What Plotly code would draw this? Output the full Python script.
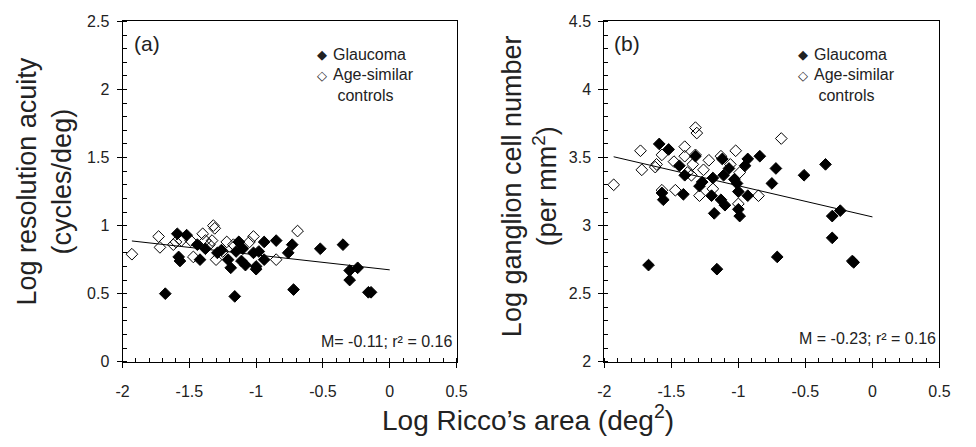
import plotly.graph_objects as go

# ---------------- data ----------------
# Panel (a): Log resolution acuity vs Log Ricco's area
a_ctrl_x = [-1.93, -1.73, -1.72, -1.62, -1.60, -1.56, -1.49, -1.47, -1.40, -1.38, -1.35, -1.33, -1.32,
            -1.31, -1.30, -1.25, -1.22, -1.17, -1.13, -1.05, -1.02, -0.85, -0.69]
a_ctrl_y = [0.79, 0.92, 0.84, 0.86, 0.88, 0.89, 0.89, 0.77, 0.94, 0.89, 0.86, 0.89, 1.00,
            0.98, 0.75, 0.81, 0.88, 0.86, 0.88, 0.88, 0.92, 0.75, 0.96]
a_glau_x = [-1.68, -1.59, -1.58, -1.57, -1.52, -1.44, -1.42, -1.38, -1.29, -1.26, -1.21, -1.19, -1.16,
            -1.15, -1.13, -1.11, -1.10, -1.08, -1.02, -1.00, -1.00, -0.98, -0.94, -0.94, -0.85, -0.76,
            -0.73, -0.72, -0.52, -0.35, -0.30, -0.30, -0.24, -0.16, -0.14]
a_glau_y = [0.50, 0.94, 0.77, 0.74, 0.93, 0.86, 0.75, 0.83, 0.80, 0.82, 0.75, 0.69, 0.48,
            0.81, 0.88, 0.74, 0.83, 0.71, 0.80, 0.70, 0.68, 0.81, 0.88, 0.75, 0.89, 0.80,
            0.86, 0.53, 0.83, 0.86, 0.67, 0.60, 0.69, 0.51, 0.51]
a_fit = {"slope": -0.11, "intercept": 0.675, "x_from": -1.93, "x_to": 0.0}

# Panel (b): Log ganglion cell number vs Log Ricco's area
b_ctrl_x = [-1.93, -1.73, -1.72, -1.62, -1.61, -1.57, -1.57, -1.48, -1.47, -1.40, -1.40, -1.38, -1.35,
            -1.34, -1.32, -1.32, -1.31, -1.29, -1.26, -1.22, -1.19, -1.13, -1.06, -1.02, -1.00, -0.99,
            -0.85, -0.68]
b_ctrl_y = [3.30, 3.55, 3.41, 3.43, 3.45, 3.52, 3.26, 3.47, 3.26, 3.58, 3.51, 3.39, 3.37,
            3.45, 3.72, 3.52, 3.68, 3.22, 3.41, 3.48, 3.27, 3.51, 3.45, 3.55, 3.16, 3.39,
            3.22, 3.64]
b_glau_x = [-1.67, -1.59, -1.57, -1.52, -1.56, -1.44, -1.41, -1.40, -1.32, -1.29, -1.27, -1.20, -1.19,
            -1.18, -1.16, -1.13, -1.12, -1.11, -1.10, -1.07, -1.03, -1.01, -1.00, -1.00, -0.99, -0.95,
            -0.93, -0.93, -0.84, -0.75, -0.72, -0.71, -0.51, -0.35, -0.30, -0.30, -0.24, -0.15, -0.14]
b_glau_y = [2.71, 3.60, 3.24, 3.56, 3.19, 3.44, 3.23, 3.37, 3.51, 3.29, 3.32, 3.22, 3.35,
            3.09, 2.68, 3.19, 3.49, 3.37, 3.15, 3.42, 3.34, 3.31, 3.25, 3.12, 3.07, 3.44,
            3.49, 3.22, 3.51, 3.31, 3.42, 2.77, 3.37, 3.45, 3.07, 2.91, 3.11, 2.74, 2.73]
b_fit = {"slope": -0.229, "intercept": 3.064, "x_from": -1.93, "x_to": 0.0}

x_tickvals = [-2, -1.5, -1, -0.5, 0, 0.5]
x_ticktext = ["-2", "-1.5", "-1", "-0.5", "0", "0.5"]
ya_tickvals = [0, 0.5, 1, 1.5, 2, 2.5]
ya_ticktext = ["0", "0.5", "1", "1.5", "2", "2.5"]
yb_tickvals = [2, 2.5, 3, 3.5, 4, 4.5]
yb_ticktext = ["2", "2.5", "3", "3.5", "4", "4.5"]

# ---------------- figure ----------------
FONT = "Liberation Sans, Arial, sans-serif"
TXT = "#222222"
W, H = 976, 447

fig = go.Figure()

def add_panel(ctrl_x, ctrl_y, glau_x, glau_y, fit, xa, ya):
    fx = [fit["x_from"], fit["x_to"]]
    fy = [fit["intercept"] + fit["slope"] * v for v in fx]
    fig.add_trace(go.Scatter(x=fx, y=fy, mode="lines", line=dict(color="black", width=1),
                             xaxis=xa, yaxis=ya, showlegend=False, hoverinfo="skip"))
    fig.add_trace(go.Scatter(x=ctrl_x, y=ctrl_y, mode="markers", name="Age-similar controls",
                             marker=dict(symbol="diamond-open", size=9, color="black",
                                         line=dict(color="black", width=1)),
                             xaxis=xa, yaxis=ya, showlegend=False))
    fig.add_trace(go.Scatter(x=glau_x, y=glau_y, mode="markers", name="Glaucoma",
                             marker=dict(symbol="diamond", size=9, color="black",
                                         line=dict(color="black", width=1)),
                             xaxis=xa, yaxis=ya, showlegend=False))

add_panel(a_ctrl_x, a_ctrl_y, a_glau_x, a_glau_y, a_fit, "x", "y")
add_panel(b_ctrl_x, b_ctrl_y, b_glau_x, b_glau_y, b_fit, "x2", "y2")

ydom = [1 - 367.7 / H, 1 - 14 / H]
xa_dom = [117.7 / W, 458 / W]
xb_dom = [608.5 / W, 950 / W]

def xaxis(dom, anchor):
    return dict(domain=dom, anchor=anchor, range=[-2, 0.5], tickmode="array",
                tickvals=x_tickvals, ticktext=x_ticktext,
                showline=True, mirror=True, linecolor="black", linewidth=1,
                ticks="outside", ticklen=5, tickcolor="black", ticklabelstandoff=10,
                minor=dict(tickmode="linear", tick0=0, dtick=0.1, ticks="inside", ticklen=4,
                           tickcolor="black", showgrid=False),
                showgrid=False, zeroline=False,
                tickfont=dict(family=FONT, size=16, color=TXT))

def yaxis(dom, anchor, rng, tv, tt):
    return dict(domain=dom, anchor=anchor, range=rng, tickmode="array",
                tickvals=tv, ticktext=tt,
                showline=True, mirror=True, linecolor="black", linewidth=1,
                ticks="outside", ticklen=5, tickcolor="black", ticklabelstandoff=4,
                minor=dict(tickmode="linear", tick0=0, dtick=0.1, ticks="inside", ticklen=4,
                           tickcolor="black", showgrid=False),
                showgrid=False, zeroline=False,
                tickfont=dict(family=FONT, size=16, color=TXT))

fig.update_layout(
    width=W, height=H, margin=dict(l=0, r=0, t=0, b=0),
    paper_bgcolor="white", plot_bgcolor="white",
    font=dict(family=FONT, color=TXT),
    xaxis=xaxis(xa_dom, "y"),
    yaxis=yaxis(ydom, "x", [0, 2.5], ya_tickvals, ya_ticktext),
    xaxis2=xaxis(xb_dom, "y2"),
    yaxis2=yaxis(ydom, "x2", [2, 4.5], yb_tickvals, yb_ticktext),
    showlegend=False,
)

def px(xp, yp):
    return xp / W, 1 - yp / H

anns = []
def ann(text, xp, yp, size, xanchor="center", yanchor="middle", angle=0, align="center"):
    x, y = px(xp, yp)
    anns.append(dict(text=text, x=x, y=y, xref="paper", yref="paper", showarrow=False,
                      xanchor=xanchor, yanchor=yanchor, textangle=angle, align=align,
                      borderpad=0,
                      font=dict(family=FONT, size=size, color=TXT)))

# panel labels
ann("(a)", 143, 37, 21)
ann("(b)", 632, 37, 21)
# legends
for off in (0, 490):
    ann("◆", 321 + off, 48, 13)
    ann("Glaucoma", 331 + off, 48, 16, xanchor="left")
    ann("◇", 321 + off, 70, 13)
    ann("Age-similar<br> controls", 331 + off, 80, 16, xanchor="left", align="left")
# stats
ann("M= -0.11; r² = 0.16", 454, 347, 16, xanchor="right")
ann("M = -0.23; r² = 0.16", 947, 344, 16, xanchor="right")
# axis titles
ann("Log resolution acuity<br>(cycles/deg)", 38, 180, 27, angle=-90)
ann("Log ganglion cell number<br>(per mm<sup>2</sup>)", 533, 185, 27, angle=-90)
ann("Log Ricco’s area (deg<sup>2</sup>)", 531, 426, 28)

fig.update_layout(annotations=anns)
fig.write_html("out.html")
